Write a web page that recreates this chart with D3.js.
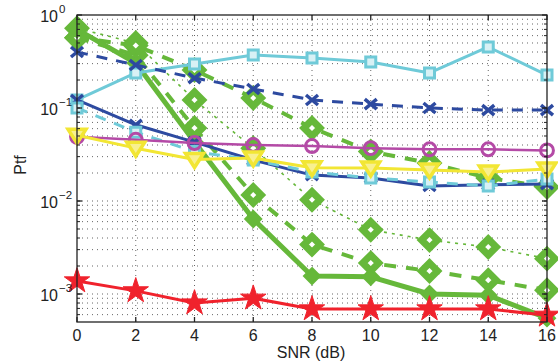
<!DOCTYPE html>
<html>
<head>
<meta charset="utf-8">
<script src="https://cdn.jsdelivr.net/npm/d3@7"></script>
<style>
  body { margin: 0; background: #fff; }
  svg { display: block; font-family: "Liberation Sans", Arial, sans-serif; }
</style>
</head>
<body>
<svg id="chart" width="558" height="362"></svg>
<script>
const snr = [0, 2, 4, 6, 8, 10, 12, 14, 16];
const xTicks = [0, 2, 4, 6, 8, 10, 12, 14, 16];
const yTickExps = [0, -1, -2, -3];

const greenDotted = [0.72, 0.5, 0.122, 0.037, 0.0103, 0.0049, 0.0038, 0.0032, 0.0024];
const greenLowerDashed = [0.57, 0.37, 0.061, 0.0116, 0.0034, 0.00215, 0.00177, 0.00141, 0.0011];
const greenUpperDashed = [0.57, 0.47, 0.256, 0.128, 0.061, 0.034, 0.0256, 0.0177, 0.0141];
const greenSolid = [0.7, 0.305, 0.043, 0.0064, 0.00156, 0.00153, 0.001, 0.00097, 0.00055];
const cyanSolid = [0.122, 0.238, 0.297, 0.371, 0.345, 0.312, 0.238, 0.453, 0.226];
const blueDashed = [0.4, 0.29, 0.21, 0.16, 0.122, 0.11, 0.1, 0.095, 0.095];
const blueSolid = [0.122, 0.066, 0.043, 0.0276, 0.019, 0.0177, 0.0145, 0.015, 0.0152];
const cyanDashed = [0.1, 0.055, 0.034, 0.0276, 0.0205, 0.0177, 0.016, 0.0145, 0.0172];
const magentaSolid = [0.049, 0.0455, 0.042, 0.04, 0.039, 0.037, 0.036, 0.036, 0.035];
const yellowSolid = [0.051, 0.037, 0.028, 0.029, 0.0228, 0.0226, 0.0216, 0.0205, 0.0221];
const redSolid = [0.00138, 0.00108, 0.0008, 0.0009, 0.00069, 0.00069, 0.00069, 0.00069, 0.00059];

const green = "#66b83a";
const series = [
  { values: greenDotted, color: green, width: 1.6, dash: "3,5", marker: "diamond" },
  { values: greenLowerDashed, color: green, width: 4, dash: "12,10", marker: "diamond" },
  { values: greenUpperDashed, color: green, width: 4, dash: "12,10", marker: "diamond" },
  { values: greenSolid, color: green, width: 5, dash: null, marker: "diamondFilled" },
  { values: cyanSolid, color: "#6fcad8", width: 3, dash: null, marker: "square" },
  { values: blueDashed, color: "#2d4aa0", width: 3, dash: "11,9", marker: "cross" },
  { values: blueSolid, color: "#2d4aa0", width: 3, dash: null, marker: "cross" },
  { values: cyanDashed, color: "#6fcad8", width: 3, dash: "11,9", marker: "square" },
  { values: magentaSolid, color: "#b44aa6", width: 2.5, dash: null, marker: "circle" },
  { values: yellowSolid, color: "#f2e634", width: 3, dash: null, marker: "triangle" },
  { values: redSolid, color: "#f0222c", width: 3, dash: null, marker: "star" }
];

const svg = d3.select("#chart");
const plotLeft = 77, plotRight = 547, plotTop = 15, plotBottom = 322;

const x = d3.scaleLinear().domain([0, 16]).range([plotLeft, plotRight]);
const y = d3.scaleLog().domain([5e-4, 1]).range([plotBottom, plotTop]);

// grid
const grid = svg.append("g").attr("stroke", "#666").attr("stroke-width", 1).attr("stroke-dasharray", "1,4");
xTicks.slice(1, -1).forEach(t => {
  grid.append("line").attr("x1", x(t)).attr("x2", x(t)).attr("y1", plotTop).attr("y2", plotBottom);
});
const minorVals = [];
for (let e = -4; e <= 0; e++) {
  for (let m = 1; m <= 9; m++) {
    const v = m * Math.pow(10, e);
    if (v > 5e-4 && v < 1) minorVals.push(v);
  }
}
minorVals.forEach(v => {
  grid.append("line").attr("x1", plotLeft).attr("x2", plotRight).attr("y1", y(v)).attr("y2", y(v));
});

// lines
const line = d3.line().x((d, i) => x(snr[i])).y(d => y(d));
const plot = svg.append("g");

const markerPath = {
  diamond: "M0,-8L8,0L0,8L-8,0Z",
  diamondFilled: "M0,-8L8,0L0,8L-8,0Z",
  square: "M-5,-5H5V5H-5Z",
  cross: "M-6,-5L6,5M-6,5L6,-5",
  circle: d3.symbol(d3.symbolCircle, 130)(),
  triangle: "M-9,-6H9L0,8Z",
  star: d3.symbol(d3.symbolStar, 200)()
};

series.forEach(s => {
  plot.append("path")
    .attr("d", line(s.values))
    .attr("fill", "none")
    .attr("stroke", s.color)
    .attr("stroke-width", s.width)
    .attr("stroke-dasharray", s.dash)
    .attr("stroke-linejoin", "round");

  const m = plot.selectAll(null).data(s.values).enter().append("path")
    .attr("transform", (d, i) => `translate(${x(snr[i])},${y(d)})`)
    .attr("d", markerPath[s.marker])
    .attr("stroke", s.color)
    .attr("stroke-linejoin", "miter");

  if (s.marker === "diamond") m.attr("fill", "#fff").attr("stroke-width", 7);
  else if (s.marker === "diamondFilled") m.attr("fill", s.color).attr("stroke-width", 2);
  else if (s.marker === "square") m.attr("fill", "#d8f1f5").attr("stroke-width", 3);
  else if (s.marker === "cross") m.attr("fill", "none").attr("stroke-width", 3.5);
  else if (s.marker === "circle") m.attr("fill", "none").attr("stroke-width", 3);
  else if (s.marker === "triangle") m.attr("fill", "#f8f090").attr("stroke-width", 3.5);
  else if (s.marker === "star") m.attr("fill", s.color).attr("stroke-width", 1);
});

// box and ticks
const axis = svg.append("g").attr("stroke", "#222").attr("stroke-width", 1.3);
axis.append("rect").attr("x", plotLeft).attr("y", plotTop).attr("width", plotRight - plotLeft).attr("height", plotBottom - plotTop).attr("fill", "none");
xTicks.forEach(t => {
  axis.append("line").attr("x1", x(t)).attr("x2", x(t)).attr("y1", plotBottom).attr("y2", plotBottom - 5);
  axis.append("line").attr("x1", x(t)).attr("x2", x(t)).attr("y1", plotTop).attr("y2", plotTop + 5);
});
yTickExps.forEach(e => {
  const v = Math.pow(10, e);
  axis.append("line").attr("x1", plotLeft).attr("x2", plotLeft + 5).attr("y1", y(v)).attr("y2", y(v));
  axis.append("line").attr("x1", plotRight).attr("x2", plotRight - 5).attr("y1", y(v)).attr("y2", y(v));
});
minorVals.forEach(v => {
  axis.append("line").attr("x1", plotLeft).attr("x2", plotLeft + 3).attr("y1", y(v)).attr("y2", y(v)).attr("stroke-width", 1);
  axis.append("line").attr("x1", plotRight).attr("x2", plotRight - 3).attr("y1", y(v)).attr("y2", y(v)).attr("stroke-width", 1);
});

// tick labels
const labels = svg.append("g").attr("fill", "#222");
xTicks.forEach(t => {
  labels.append("text").attr("x", x(t)).attr("y", 341).attr("text-anchor", "middle")
    .attr("font-size", 16).text(t);
});
yTickExps.forEach(e => {
  const yy = y(Math.pow(10, e));
  labels.append("text").attr("x", 58).attr("y", yy + 7).attr("text-anchor", "end").attr("font-size", 16)
    .text("10");
  labels.append("text").attr("x", 59).attr("y", yy - 2).attr("font-size", 11.5)
    .text(e === 0 ? "0" : "\u2212" + Math.abs(e));
});

labels.append("text").attr("transform", "translate(26,165) rotate(-90)").attr("text-anchor", "middle")
  .attr("font-size", 16).text("Ptf");
labels.append("text").attr("x", 311).attr("y", 358).attr("text-anchor", "middle")
  .attr("font-size", 16).text("SNR (dB)");
</script>
</body>
</html>
